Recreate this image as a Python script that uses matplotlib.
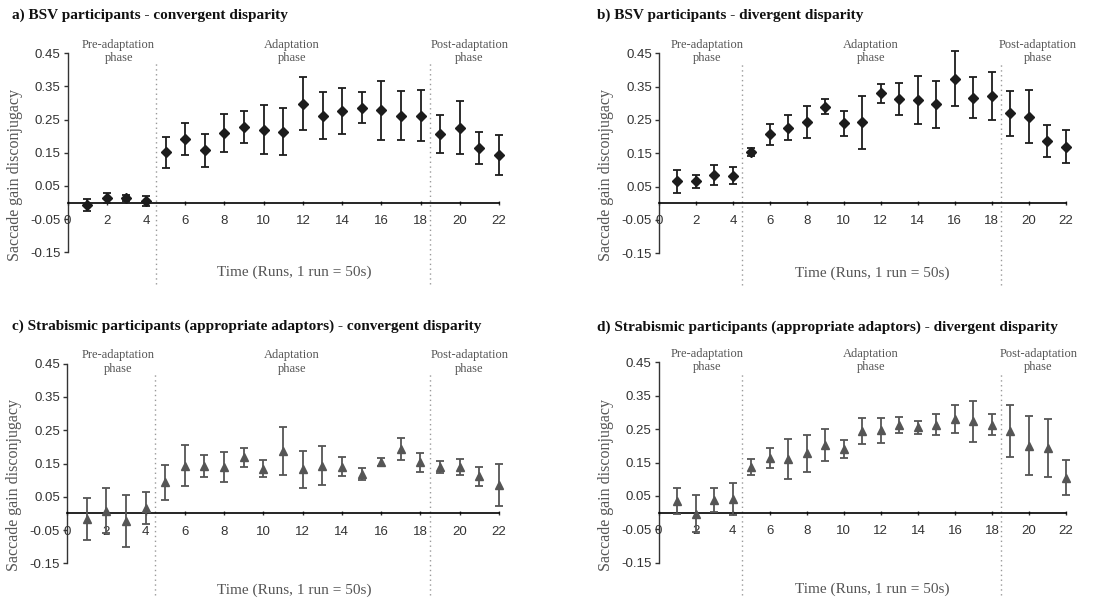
import numpy as np
import matplotlib
matplotlib.use("Agg")
import matplotlib.pyplot as plt

# runs 1..22, mean saccade gain disconjugacy and error
runs = np.arange(1, 23)

bsv_conv = [-0.006, 0.014, 0.014, 0.004, 0.151, 0.191, 0.157, 0.210, 0.228, 0.220, 0.213,
            0.298, 0.262, 0.276, 0.286, 0.279, 0.262, 0.262, 0.207, 0.226, 0.164, 0.144]
bsv_conv_err = [0.018, 0.016, 0.009, 0.015, 0.047, 0.049, 0.050, 0.058, 0.049, 0.075, 0.071,
                0.080, 0.070, 0.070, 0.046, 0.089, 0.074, 0.077, 0.058, 0.080, 0.049, 0.061]

bsv_div = [0.066, 0.066, 0.086, 0.083, 0.154, 0.207, 0.227, 0.244, 0.290, 0.240, 0.243,
           0.330, 0.313, 0.310, 0.297, 0.374, 0.317, 0.323, 0.270, 0.260, 0.187, 0.170]
bsv_div_err = [0.035, 0.019, 0.030, 0.026, 0.012, 0.032, 0.037, 0.048, 0.023, 0.038, 0.080,
               0.029, 0.049, 0.071, 0.071, 0.082, 0.061, 0.072, 0.068, 0.080, 0.047, 0.049]

strab_conv = [-0.017, 0.008, -0.022, 0.016, 0.093, 0.143, 0.143, 0.139, 0.169, 0.135, 0.188,
              0.133, 0.144, 0.141, 0.119, 0.155, 0.195, 0.154, 0.141, 0.140, 0.112, 0.085]
strab_conv_err = [0.064, 0.067, 0.078, 0.049, 0.052, 0.062, 0.033, 0.045, 0.028, 0.026, 0.071,
                  0.056, 0.060, 0.030, 0.019, 0.011, 0.033, 0.029, 0.018, 0.024, 0.029, 0.064]

strab_div = [0.034, -0.003, 0.037, 0.040, 0.137, 0.163, 0.161, 0.178, 0.203, 0.191, 0.244,
             0.247, 0.263, 0.256, 0.264, 0.281, 0.273, 0.264, 0.244, 0.201, 0.193, 0.105]
strab_div_err = [0.039, 0.055, 0.036, 0.048, 0.024, 0.030, 0.060, 0.056, 0.049, 0.027, 0.038,
                 0.037, 0.023, 0.019, 0.032, 0.041, 0.061, 0.030, 0.078, 0.089, 0.086, 0.053]

titles = ["a) BSV participants - convergent disparity",
          "b) BSV participants - divergent disparity",
          "c) Strabismic participants (appropriate adaptors) - convergent disparity",
          "d) Strabismic participants (appropriate adaptors) - divergent disparity"]

phase_names = ["Pre-adaptation\nphase", "Adaptation\nphase", "Post-adaptation\nphase"]
phase_centers = [2.6, 11.45, 20.5]
phase_bounds = [4.5, 18.5]

yticks = [0.45, 0.35, 0.25, 0.15, 0.05, -0.05, -0.15]
ytick_labels = ["0.45", "0.35", "0.25", "0.15", "0.05", "-0.05", "-0.15"]
xticks = np.arange(0, 23, 2)

serif = "Liberation Serif"
sans = "Liberation Sans"

fig = plt.figure(figsize=(11.2, 6.03), dpi=100)

# [left, bottom, width, height], marker, colour, title pos, xlabel y
panels = [
    ([0.0604, 0.5816, 0.3851, 0.3300], bsv_conv, bsv_conv_err, "D", "#1c1c1c", (0.011, 0.975), -0.10),
    ([0.5884, 0.5800, 0.3631, 0.3317], bsv_div, bsv_div_err, "D", "#1c1c1c", (0.533, 0.975), -0.10),
    ([0.0598, 0.0658, 0.3857, 0.3310], strab_conv, strab_conv_err, "^", "#555555", (0.011, 0.459), -0.134),
    ([0.5881, 0.0668, 0.3637, 0.3322], strab_div, strab_div_err, "^", "#555555", (0.533, 0.458), -0.13),
]

for i, (pos, vals, errs, mk, col, tpos, xly) in enumerate(panels):
    ax = fig.add_axes(pos)
    ax.errorbar(runs, vals, yerr=errs, fmt=mk, color=col, ecolor=col,
                markersize=4.6 if mk == "D" else 6.0, elinewidth=1.3, capsize=3.2,
                capthick=1.3, clip_on=False, zorder=3)

    ax.set_xlim(0, 22)
    ax.set_ylim(-0.15, 0.45)
    for s in ["top", "right"]:
        ax.spines[s].set_visible(False)
    ax.spines["bottom"].set_position(("data", 0))
    ax.spines["bottom"].set_linewidth(1.2)
    ax.spines["left"].set_color("#333333")
    ax.spines["left"].set_linewidth(1.0)

    ax.set_yticks(yticks)
    ax.set_yticklabels(ytick_labels, fontfamily=sans, fontsize=9.5, color="#333333")
    ax.set_xticks(xticks)
    ax.set_xticklabels([str(t) for t in xticks], fontfamily=sans, fontsize=9.5, color="#333333")
    ax.tick_params(axis="y", direction="out", length=3, width=1, color="#333333", pad=2)
    ax.tick_params(axis="x", direction="inout", length=3.5, width=1, color="#333333", pad=7)

    for b in phase_bounds:
        ax.axvline(b, ymin=-0.16, ymax=0.95, color="#999999", linestyle=(0, (1, 2.5)),
                   linewidth=1.0, clip_on=False, zorder=1)

    for name, cx in zip(phase_names, phase_centers):
        ax.text(cx, 0.455, name, ha="center", va="center", fontfamily=serif, fontsize=9,
                color="#555555", linespacing=1.15, clip_on=False)

    ax.text(-0.122 if i % 2 == 0 else -0.13, 0.39, "Saccade gain disconjugacy",
            transform=ax.transAxes, rotation=90, ha="center", va="center",
            fontfamily=serif, fontsize=11.5, color="#555555")
    ax.text(0.525, xly, "Time (Runs, 1 run = 50s)", transform=ax.transAxes,
            ha="center", va="center", fontfamily=serif, fontsize=11, color="#555555")

    fig.text(tpos[0], tpos[1], titles[i], ha="left", va="center", fontfamily=serif,
             fontsize=11, fontweight="bold", color="#111111")

fig.savefig("out.png", dpi=100)
